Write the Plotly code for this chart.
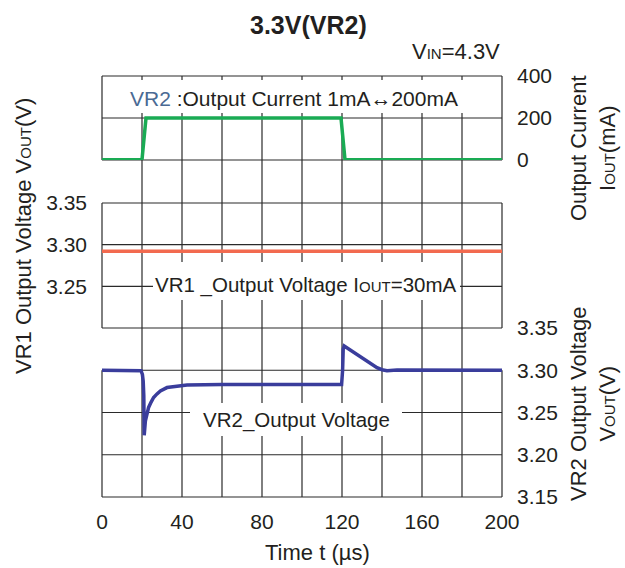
import plotly.graph_objects as go

# ---- data -------------------------------------------------------------
# load step on VR2: output current (mA) vs time (us)
t_current = [0, 20, 22, 119.5, 121.5, 200]
i_out = [1, 1, 200, 200, 1, 1]

# VR1 output voltage at IOUT = 30 mA
t_vr1 = [0, 200]
v_vr1 = [3.292, 3.292]

# VR2 output voltage transient response
t_vr2 = [0, 18.5, 19.5, 20.2, 20.6, 20.9, 21.1, 21.7, 22.5, 23.3, 24.5, 25.8,
         27.5, 29.2, 32.5, 37.5, 42.5, 60, 119.8, 120.3, 120.6, 121.1, 124.1,
         129.2, 134.2, 137.5, 140, 142.5, 147.5, 200]
v_vr2 = [3.300, 3.300, 3.2995, 3.295, 3.287, 3.270, 3.223, 3.240, 3.249, 3.256,
         3.262, 3.2677, 3.272, 3.2756, 3.2795, 3.2815, 3.2825, 3.283, 3.283,
         3.300, 3.325, 3.3286, 3.3239, 3.316, 3.3082, 3.303, 3.3006, 3.2995,
         3.3003, 3.300]

x_ticks = [0, 40, 80, 120, 160, 200]
x_grid = [20, 40, 60, 80, 100, 120, 140, 160, 180]
cur_ticks = [0, 200, 400]
vr1_ticks = [3.25, 3.30, 3.35]
vr2_ticks = [3.15, 3.20, 3.25, 3.30, 3.35]
cur_grid = [0, 200, 400]
vr1_grid = [3.20, 3.25, 3.30, 3.35]
vr2_grid = [3.15, 3.20, 3.25, 3.30]

# ---- styling ----------------------------------------------------------
FONT = "Liberation Sans, Arial, Helvetica, sans-serif"
INK = "#231f20"
GRID = "#2a2a2a"
GREEN = "#1aab54"
ORANGE = "#f26a4f"
BLUE = "#3a3d9c"

W, H = 625, 568
PL, PR, PT, PB = 102, 502, 76, 497


def px_x(px):
    return (px - PL) / (PR - PL)


def px_y(py):
    return (PB - py) / (PB - PT)


dom_cur = [px_y(160), 1.0]
dom_vr1 = [px_y(328), px_y(203)]
dom_vr2 = [0.0, px_y(328)]

rng_cur = [0, 400]
rng_vr1 = [3.20, 3.35]
rng_vr2 = [3.15, 3.35]


def to_paper(v, rng, dom):
    return dom[0] + (v - rng[0]) / (rng[1] - rng[0]) * (dom[1] - dom[0])


def to_paper_x(t):
    return t / 200.0


fig = go.Figure()
fig.add_trace(go.Scatter(x=t_current, y=i_out, mode="lines", yaxis="y",
                         line=dict(color=GREEN, width=3.5)))
fig.add_trace(go.Scatter(x=t_vr1, y=v_vr1, mode="lines", yaxis="y2",
                         line=dict(color=ORANGE, width=3.5)))
fig.add_trace(go.Scatter(x=t_vr2, y=v_vr2, mode="lines", yaxis="y3",
                         line=dict(color=BLUE, width=3.5)))

shapes = []
gl = dict(color=GRID, width=1.2)
# vertical grid lines running through all three panels
for t in x_grid:
    shapes.append(dict(type="line", xref="paper", yref="paper",
                       x0=to_paper_x(t), x1=to_paper_x(t), y0=0, y1=1,
                       line=gl, layer="below"))
# horizontal grid lines of each panel
for levels, rng, dom in ((cur_grid, rng_cur, dom_cur),
                         (vr1_grid, rng_vr1, dom_vr1),
                         (vr2_grid, rng_vr2, dom_vr2)):
    for v in levels:
        y = to_paper(v, rng, dom)
        shapes.append(dict(type="line", xref="paper", yref="paper",
                           x0=0, x1=1, y0=y, y1=y, line=gl, layer="below"))
# white backing behind the in-plot labels
for x0, x1, y0, y1 in ((104, 500, 80, 113),
                       (153, 460, 262, 300),
                       (190, 402, 403, 436)):
    shapes.append(dict(type="rect", xref="paper", yref="paper",
                       x0=px_x(x0), x1=px_x(x1), y0=px_y(y1), y1=px_y(y0),
                       fillcolor="white", line=dict(width=0), layer="below"))
# left/right frame edges of each panel
for lo, hi, rng, dom in ((0, 400, rng_cur, dom_cur),
                         (3.20, 3.35, rng_vr1, dom_vr1),
                         (3.15, 3.30, rng_vr2, dom_vr2)):
    for xe in (0, 200):
        shapes.append(dict(type="line", xref="paper", yref="paper",
                           x0=to_paper_x(xe), x1=to_paper_x(xe),
                           y0=to_paper(lo, rng, dom), y1=to_paper(hi, rng, dom),
                           line=gl, layer="below"))

SUB = "<span style='font-size:15px'>{}</span>"


def ann(px, py, text, size=21, angle=0, xanchor="center", bold=False):
    return dict(x=px_x(px), y=px_y(py), xref="paper", yref="paper",
                text=f"<b>{text}</b>" if bold else text, showarrow=False,
                xanchor=xanchor, yanchor="middle", textangle=angle,
                font=dict(family=FONT, size=size, color=INK))


annotations = [
    ann(308, 25, "3.3V(VR2)", size=25, bold=True),
    ann(502, 51, "V" + SUB.format("IN") + "=4.3V", size=22, xanchor="right"),
    ann(294, 99, "<span style='color:#4a6a94'>VR2</span> :Output Current 1mA\u2194200mA",
        size=21),
    ann(306, 285, "VR1 _Output Voltage I" + SUB.format("OUT") + "=30mA", size=20.5),
    ann(296, 420, "VR2_Output Voltage", size=20.5),
    ann(23, 236, "VR1 Output Voltage V" + SUB.format("OUT") + "(V)", size=22, angle=-90),
    ann(593, 148, "Output Current<br>I" + SUB.format("OUT") + "(mA)", size=22, angle=-90),
    ann(593, 404, "VR2 Output Voltage<br>V" + SUB.format("OUT") + "(V)", size=22, angle=-90),
    ann(317, 552, "Time t (\u00b5s)", size=22),
]

axis_common = dict(showgrid=False, zeroline=False, showline=False, ticks="",
                   tickfont=dict(family=FONT, size=21, color=INK), fixedrange=True)

fig.update_layout(
    width=W, height=H,
    margin=dict(l=PL, r=W - PR, t=PT, b=H - PB, pad=0),
    paper_bgcolor="white", plot_bgcolor="rgba(0,0,0,0)",
    showlegend=False,
    font=dict(family=FONT, size=21, color=INK),
    xaxis=dict(domain=[0, 1], range=[0, 200], anchor="y3", tickvals=x_ticks,
               ticklabelstandoff=10, **axis_common),
    yaxis=dict(domain=dom_cur, range=rng_cur, side="right", anchor="x",
               tickvals=cur_ticks, ticklabelstandoff=14, **axis_common),
    yaxis2=dict(domain=dom_vr1, range=rng_vr1, side="left", anchor="x",
                tickvals=vr1_ticks, tickformat=".2f", ticklabelstandoff=14,
                **axis_common),
    yaxis3=dict(domain=dom_vr2, range=rng_vr2, side="right", anchor="x",
                tickvals=vr2_ticks, tickformat=".2f", ticklabelstandoff=14,
                **axis_common),
    shapes=shapes,
    annotations=annotations,
)

fig.write_html("out.html")
